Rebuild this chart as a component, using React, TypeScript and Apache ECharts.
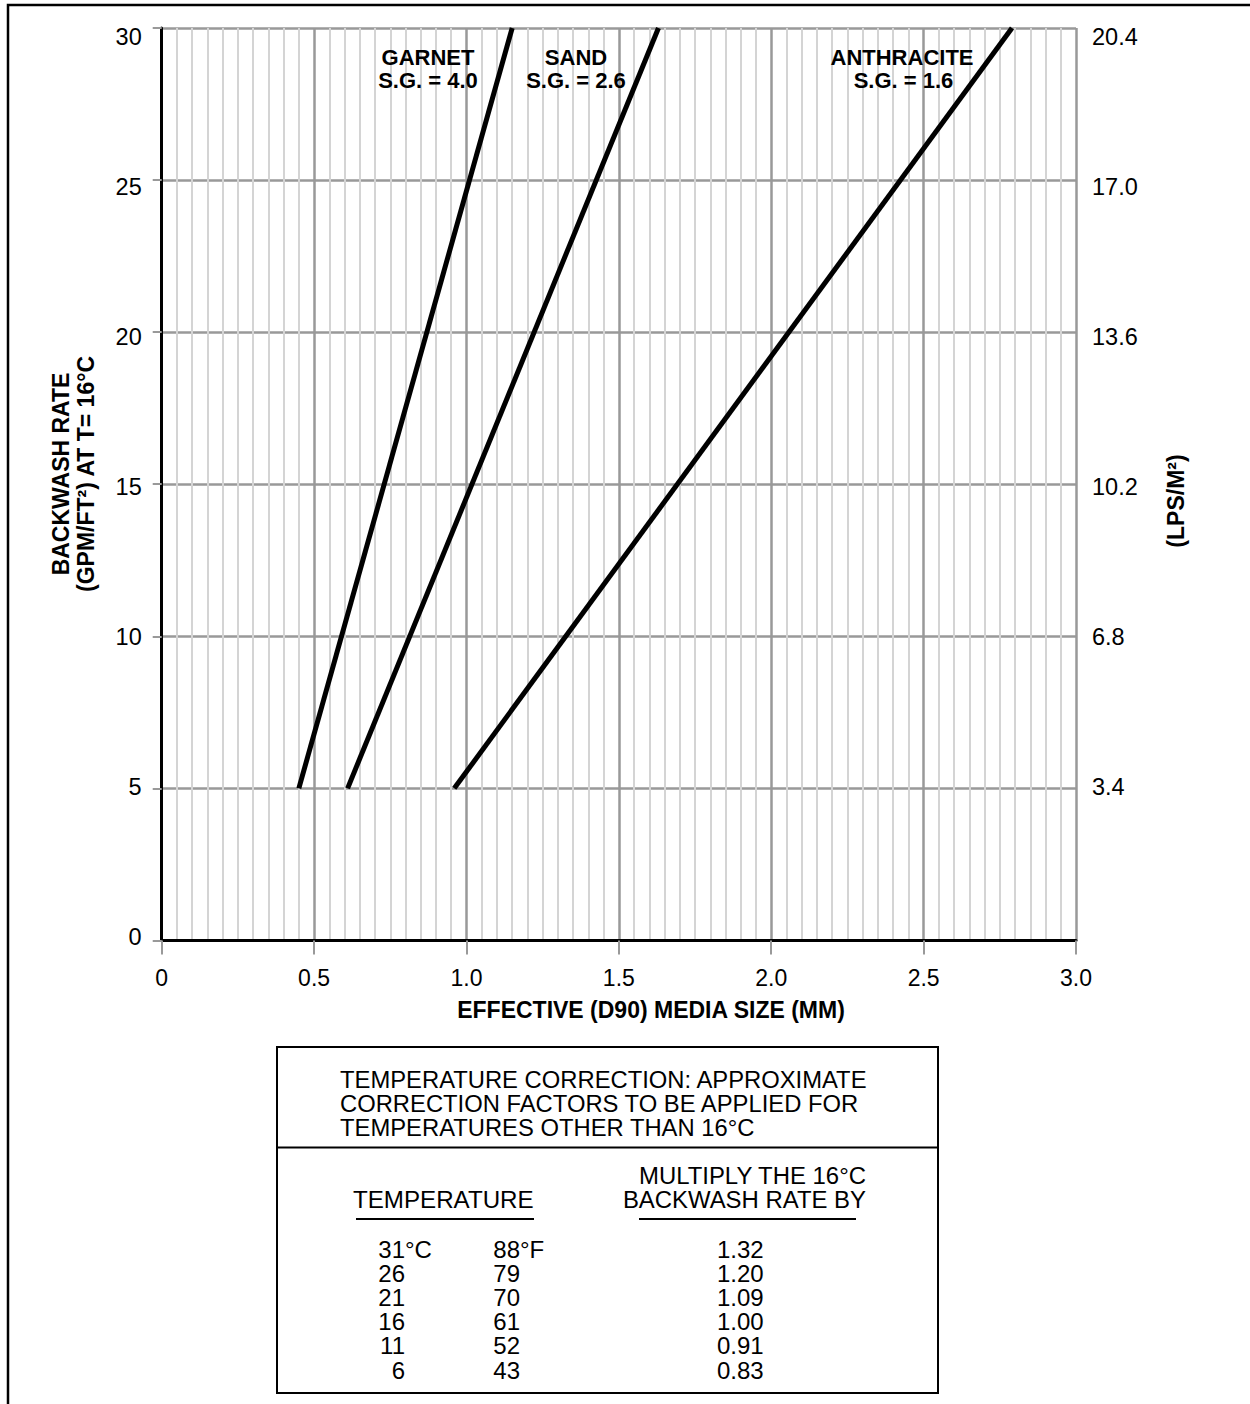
import React, { useEffect, useRef } from "react";
import * as echarts from "echarts";

// ---- data ----
const garnet: number[][] = [[0.45, 5], [1.15, 30]];
const sand: number[][] = [[0.61, 5], [1.63, 30]];
const anthracite: number[][] = [[0.96, 5], [2.79, 30]];

const mediaNames = ["GARNET", "SAND", "ANTHRACITE"];
const mediaSG = ["S.G. = 4.0", "S.G. = 2.6", "S.G. = 1.6"];

const titleLines = [
  "TEMPERATURE CORRECTION: APPROXIMATE",
  "CORRECTION FACTORS TO BE APPLIED FOR",
  "TEMPERATURES OTHER THAN 16°C",
];
const tempC = ["31", "26", "21", "16", "11", "6"];
const tempF = ["88", "79", "70", "61", "52", "43"];
const factors = ["1.32", "1.20", "1.09", "1.00", "0.91", "0.83"];

const xAxisTitle = "EFFECTIVE (D90) MEDIA SIZE (MM)";
const yAxisTitle1 = "BACKWASH RATE";
const yAxisTitle2 = "(GPM/FT²) AT T= 16°C";
const yAxisTitleRight = "(LPS/M²)";

const FONT = '"Liberation Sans", Arial, Helvetica, sans-serif';

function txt(
  text: string,
  x: number,
  y: number,
  opts: { size?: number; bold?: boolean; align?: string; rotation?: number; scaleX?: number } = {}
) {
  const size = opts.size ?? 24;
  const align = opts.align ?? "left";
  return {
    type: "text",
    x,
    y,
    rotation: opts.rotation ?? 0,
    scaleX: opts.scaleX ?? 1,
    z: 100,
    silent: true,
    style: {
      text,
      fill: "#000",
      fontSize: size,
      fontWeight: opts.bold ? "bold" : "normal",
      fontFamily: FONT,
      textAlign: align,
      align,
      textVerticalAlign: "middle",
      verticalAlign: "middle",
    },
  };
}

function ln(x1: number, y1: number, x2: number, y2: number, w = 2) {
  return {
    type: "line",
    z: 100,
    silent: true,
    shape: { x1, y1, x2, y2 },
    style: { stroke: "#000", lineWidth: w },
  };
}

export default function App() {
  const ref = useRef<HTMLDivElement>(null);

  useEffect(() => {
    if (!ref.current) return;
    const chart = echarts.init(ref.current, undefined, { renderer: "svg" });

    const GL = 161.7, GT = 28, GW = 914.3, GH = 912.4;
    const majorColor = "#999999";
    const minorColor = "#d4d4d4";

    const graphics: any[] = [];
    // outer frame
    graphics.push({
      type: "rect",
      z: 100,
      silent: true,
      shape: { x: 8, y: 5, width: 1400, height: 1500 },
      style: { fill: "none", stroke: "#000", lineWidth: 2.5 },
    });
    // curve labels
    const labelX = [428, 576, 902];
    mediaNames.forEach((n, i) => {
      graphics.push(txt(n, labelX[i], 57, { bold: true, align: "center", size: 22 }));
      graphics.push(txt(mediaSG[i], labelX[i] + (i === 2 ? 1.5 : 0), 80.5, { bold: true, align: "center", size: 22 }));
    });
    // axis titles
    graphics.push(txt(xAxisTitle, 651, 1010, { bold: true, align: "center", size: 23 }));
    graphics.push(txt(yAxisTitle1, 61, 474, { bold: true, align: "center", rotation: Math.PI / 2, size: 23 }));
    graphics.push(txt(yAxisTitle2, 86, 474, { bold: true, align: "center", rotation: Math.PI / 2, size: 23 }));
    graphics.push(txt(yAxisTitleRight, 1176, 501, { bold: true, align: "center", rotation: Math.PI / 2, size: 23 }));

    // table
    graphics.push({
      type: "rect",
      z: 100,
      silent: true,
      shape: { x: 277, y: 1047, width: 661, height: 346 },
      style: { fill: "none", stroke: "#000", lineWidth: 2 },
    });
    graphics.push(ln(277, 1147.5, 938, 1147.5, 2));
    titleLines.forEach((t, i) => graphics.push(txt(t, 340, 1080 + i * 24, { size: 23, scaleX: 1.035 })));
    graphics.push(txt("MULTIPLY THE 16°C", 866, 1176, { align: "right", size: 23, scaleX: 1.04 }));
    graphics.push(txt("BACKWASH RATE BY", 866, 1200, { align: "right", size: 23, scaleX: 1.04 }));
    graphics.push(txt("TEMPERATURE", 353, 1200, { size: 23, scaleX: 1.05 }));
    graphics.push(ln(356, 1219, 534, 1219, 2));
    graphics.push(ln(639, 1219, 856, 1219, 2));
    tempC.forEach((c, i) => {
      const y = 1249 + i * 24.2;
      graphics.push(txt(c, 405, y, { align: "right" }));
      graphics.push(txt(tempF[i], 520, y, { align: "right" }));
      graphics.push(txt(factors[i], 717, y));
      if (i === 0) {
        graphics.push(txt("°C", 405, y));
        graphics.push(txt("°F", 520, y));
      }
    });

    const lineSeries = (name: string, data: number[][]) => ({
      name,
      type: "line",
      xAxisIndex: 0,
      yAxisIndex: 0,
      data,
      symbol: "none",
      silent: true,
      lineStyle: { color: "#000", width: 5, cap: "butt" },
      z: 10,
    });

    chart.setOption({
      animation: false,
      backgroundColor: "#fff",
      textStyle: { fontFamily: FONT },
      grid: [
        { left: GL, top: GT, width: GW, height: GH, show: false },
        { left: GL, top: 37, width: GW, height: 900, show: false },
      ],
      xAxis: [
        {
          type: "value",
          gridIndex: 0,
          min: 0,
          max: 3,
          interval: 0.5,
          axisLine: { show: true, onZero: false, lineStyle: { color: "#000", width: 3 } },
          axisTick: { show: true, length: 14, lineStyle: { color: majorColor, width: 2 } },
          axisLabel: {
            fontSize: 23,
            color: "#000",
            fontFamily: FONT,
            margin: 26,
            formatter: (v: number) => (v === 0 ? "0" : v.toFixed(1)),
          },
          splitLine: { show: true, showMinLine: false, lineStyle: { color: majorColor, width: 2.5 } },
          minorTick: { show: false, splitNumber: 10 },
          minorSplitLine: { show: true, lineStyle: { color: minorColor, width: 2 } },
        },
        { type: "value", gridIndex: 1, min: 0, max: 3, show: false },
      ],
      yAxis: [
        {
          type: "value",
          gridIndex: 0,
          min: 0,
          max: 30,
          interval: 5,
          axisLine: { show: true, onZero: false, lineStyle: { color: "#000", width: 3 } },
          axisTick: { show: true, length: 9, lineStyle: { color: majorColor, width: 2 } },
          axisLabel: { show: false },
          splitLine: { show: true, showMinLine: false, lineStyle: { color: majorColor, width: 2.5 } },
        },
        {
          type: "value",
          gridIndex: 1,
          position: "left",
          min: 0,
          max: 30,
          interval: 5,
          axisLine: { show: false },
          axisTick: { show: false },
          splitLine: { show: false },
          axisLabel: { fontSize: 23.5, color: "#000", fontFamily: FONT, margin: 20 },
        },
        {
          type: "value",
          gridIndex: 1,
          position: "right",
          min: 0,
          max: 20.4,
          interval: 3.4,
          axisLine: { show: false },
          axisTick: { show: false },
          splitLine: { show: false },
          axisLabel: {
            fontSize: 23.5,
            color: "#000",
            fontFamily: FONT,
            margin: 16,
            formatter: (v: number) => (v < 0.01 ? "" : v.toFixed(1)),
          },
        },
      ],
      series: [
        lineSeries("Garnet", garnet),
        lineSeries("Sand", sand),
        lineSeries("Anthracite", anthracite),
      ],
      graphic: graphics,
    });

    return () => chart.dispose();
  }, []);

  return (
    <div
      ref={ref}
      style={{ position: "absolute", left: 0, top: 0, width: 1250, height: 1404, background: "#fff" }}
    />
  );
}
